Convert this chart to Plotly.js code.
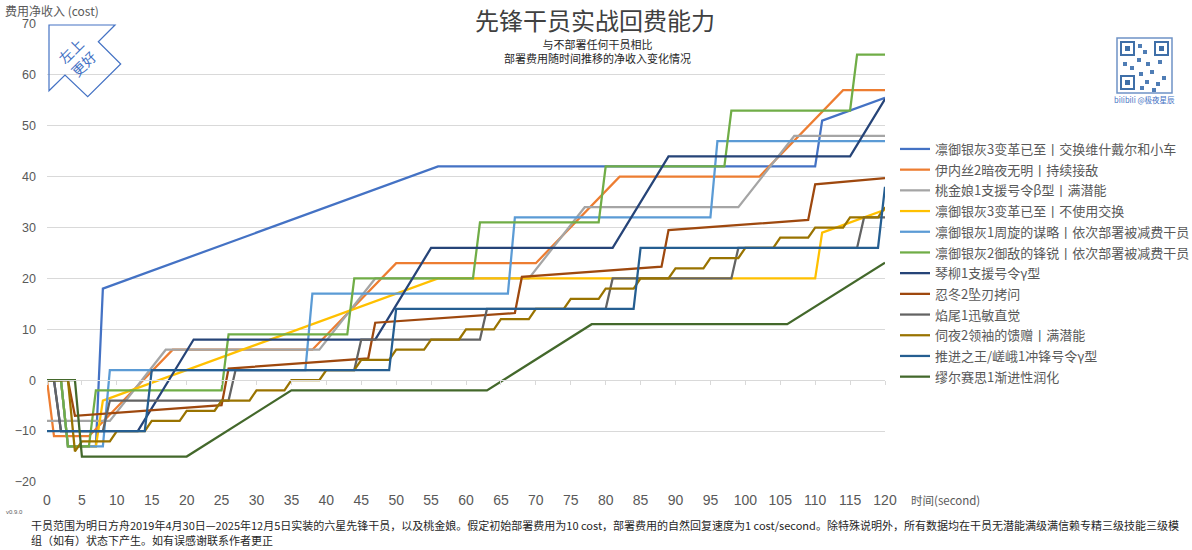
<!DOCTYPE html>
<html>
<head>
<meta charset="utf-8">
<script src="https://cdn.plot.ly/plotly-3.0.1.min.js"></script>
<style>
  html, body { margin: 0; padding: 0; background: #fff; }
  #chart { width: 1192px; height: 550px; }
</style>
</head>
<body>
<div id="chart"></div>
<script>
// series names as in the legend
var seriesNames = [
  '凛御银灰3变革已至丨交换维什戴尔和小车',
  '伊内丝2暗夜无明丨持续接敌',
  '桃金娘1支援号令β型丨满潜能',
  '凛御银灰3变革已至丨不使用交换',
  '凛御银灰1周旋的谋略丨依次部署被减费干员',
  '凛御银灰2御敌的锋锐丨依次部署被减费干员',
  '琴柳1支援号令γ型',
  '忍冬2坠刃拷问',
  '焰尾1迅敏直觉',
  '伺夜2领袖的馈赠丨满潜能',
  '推进之王/嵯峨1冲锋号令γ型',
  '缪尔赛思1渐进性润化'
];
var colors = ['#4472C4', '#ED7D31', '#A5A5A5', '#FFC000', '#5B9BD5', '#70AD47',
              '#264478', '#9E480E', '#636363', '#997300', '#255E91', '#43682B'];

// time (second) / net cost pairs
var t1 = [0, 2, 3, 7, 8, 56, 110, 111, 120];
var v1 = [0, 0, -13, -13, 18, 42, 42, 51, 55.5];

var t2 = [0, 1, 6, 18, 38, 50, 70, 82, 102, 114, 120];
var v2 = [0, -11, -11, 6, 6, 23, 23, 40, 40, 57, 57];

var t3 = [0, 9, 17, 39, 47, 69, 77, 99, 107, 120];
var v3 = [-8, -8, 6, 6, 20, 20, 34, 34, 48, 48];

var t4 = [0, 2, 3, 7, 8, 56, 110, 111, 120];
var v4 = [0, 0, -13, -13, -4, 20, 20, 29, 33.5];

var t5 = [0, 2, 3, 8, 9, 37, 38, 66, 67, 95, 96, 120];
var v5 = [0, 0, -13, -13, 2, 2, 17, 17, 32, 32, 47, 47];

var t6 = [0, 2, 3, 6, 7, 25, 26, 43, 44, 61, 62, 79, 80, 97, 98, 115, 116, 120];
var v6 = [0, 0, -13, -13, -2, -2, 9, 9, 20, 20, 31, 31, 42, 42, 53, 53, 64, 64];

var t7 = [0, 1, 2, 13, 21, 47, 55, 81, 89, 115, 120];
var v7 = [0, 0, -10, -10, 8, 8, 26, 26, 44, 44, 55.25];

var t8 = [0, 3, 4, 25, 26, 46, 47, 67, 68, 88, 89, 109, 110, 120];
var v8 = [0, 0, -7, -4.9, 2.3, 4.3, 11.3, 13.2, 20.3, 22.3, 29.5, 31.5, 38.5, 39.7];

var t9 = [0, 1, 2, 8, 9, 26, 27, 44, 45, 62, 63, 80, 81, 98, 99, 116, 117, 120];
var v9 = [0, 0, -10, -10, -4, -4, 2, 2, 8, 8, 14, 14, 20, 20, 26, 26, 32, 32];

var t10 = [0, 3, 4, 5, 9, 10, 14, 15, 19, 20, 24, 25, 29, 30, 34, 35, 39, 40, 44, 45,
           49, 50, 54, 55, 59, 60, 64, 65, 69, 70, 74, 75, 79, 80, 84, 85, 89, 90,
           94, 95, 99, 100, 104, 105, 109, 110, 114, 115, 119, 120];
var v10 = [0, 0, -14, -12, -12, -10, -10, -8, -8, -6, -6, -4, -4, -2, -2, 0, 0, 2, 2, 4,
           4, 6, 6, 8, 8, 10, 10, 12, 12, 14, 14, 16, 16, 18, 18, 20, 20, 22,
           22, 24, 24, 26, 26, 28, 28, 30, 30, 32, 32, 34];

var t11 = [0, 14, 15, 49, 50, 84, 85, 119, 120];
var v11 = [-10, -10, 2, 2, 14, 14, 26, 26, 38];

var t12 = [0, 4, 5, 20, 35, 63, 78, 106, 120];
var v12 = [0, 0, -15, -15, -2, -2, 11, 11, 23.1];

var xTicks = [0, 5, 10, 15, 20, 25, 30, 35, 40, 45, 50, 55, 60, 65, 70, 75, 80, 85, 90, 95, 100, 105, 110, 115, 120];
var yTicks = [-20, -10, 0, 10, 20, 30, 40, 50, 60, 70];

var times = [t1, t2, t3, t4, t5, t6, t7, t8, t9, t10, t11, t12];
var values = [v1, v2, v3, v4, v5, v6, v7, v8, v9, v10, v11, v12];

// plot area in pixels
var PL = 47, PR = 885, PT = 24, PB = 482;
function px(x) { return (x - PL) / (PR - PL); }
function py(y) { return (PB - y) / (PB - PT); }

var cjk = '"Noto Sans CJK SC", "Noto Sans", sans-serif';
var grey = '#595959';

var data = [];
for (var i = 0; i < seriesNames.length; i++) {
  data.push({
    x: times[i],
    y: values[i],
    name: seriesNames[i],
    legendgroup: 'g' + i,
    mode: 'lines',
    line: { color: colors[i], width: 2.25 },
    hoverinfo: 'x+y+name'
  });
}
// holder so the zero-line tick axis is drawn
data.push({ x: [xTicks[0], xTicks[xTicks.length - 1]], y: [null, null], xaxis: 'x2',
            showlegend: false, hoverinfo: 'skip', mode: 'lines' });

// arrow outline "左上更好"
var arrow = [[49, 25], [115, 25], [98.3, 41.7], [120.7, 64], [87.7, 96.7], [65, 75], [49, 90.7]];
var arrowPath = arrow.map(function (p, k) {
  return (k ? 'L' : 'M') + px(p[0]).toFixed(5) + ',' + py(p[1]).toFixed(5);
}).join(' ') + ' Z';

var shapes = [
  // white band behind the title, breaking the top gridline
  { type: 'rect', xref: 'paper', yref: 'paper', layer: 'above', x0: px(438), x1: px(753),
    y0: py(30), y1: py(18), line: { width: 0 }, fillcolor: '#fff' },
  { type: 'path', xref: 'paper', yref: 'paper', path: arrowPath,
    line: { color: '#4472C4', width: 1.2 }, fillcolor: 'rgba(255,255,255,0)' },
  // QR code stand-in
  { type: 'rect', xref: 'paper', yref: 'paper', x0: px(1117), x1: px(1172), y0: py(93), y1: py(38),
    line: { color: '#6F93C6', width: 1.5 }, fillcolor: '#fff' }
];
[[1121, 42], [1155, 42], [1121, 76]].forEach(function (c) {
  shapes.push({ type: 'rect', xref: 'paper', yref: 'paper', x0: px(c[0]), x1: px(c[0] + 13),
    y0: py(c[1] + 13), y1: py(c[1]), line: { color: '#3F6FA8', width: 2 }, fillcolor: '#fff' });
  shapes.push({ type: 'rect', xref: 'paper', yref: 'paper', x0: px(c[0] + 4), x1: px(c[0] + 9),
    y0: py(c[1] + 9), y1: py(c[1] + 4), line: { width: 0 }, fillcolor: '#3F6FA8' });
});
[[1138, 44], [1143, 50], [1137, 58], [1146, 62], [1123, 62], [1130, 66], [1150, 70],
 [1158, 60], [1139, 72], [1145, 80], [1156, 82], [1162, 76], [1140, 86], [1152, 88]].forEach(function (c) {
  shapes.push({ type: 'rect', xref: 'paper', yref: 'paper', x0: px(c[0]), x1: px(c[0] + 4),
    y0: py(c[1] + 4), y1: py(c[1]), line: { width: 0 }, fillcolor: '#4F7DB5' });
});

var annotations = [
  { text: '先锋干员实战回费能力', xref: 'paper', yref: 'paper', x: px(595), y: py(20),
    xanchor: 'center', yanchor: 'middle', showarrow: false,
    font: { family: cjk, size: 24, color: '#404040' } },
  { text: '与不部署任何干员相比<br>部署费用随时间推移的净收入变化情况', xref: 'paper', yref: 'paper',
    x: px(597), y: py(50.5), xanchor: 'center', yanchor: 'middle', showarrow: false,
    font: { family: cjk, size: 11, color: '#262626' } },
  { text: '费用净收入 (cost)', xref: 'paper', yref: 'paper', x: px(3), y: py(11),
    xanchor: 'left', yanchor: 'middle', showarrow: false,
    font: { family: cjk, size: 12, color: grey } },
  { text: '时间(second)', xref: 'paper', yref: 'paper', x: px(909), y: py(500),
    xanchor: 'left', yanchor: 'middle', showarrow: false,
    font: { family: cjk, size: 11.5, color: grey } },
  { text: '左上<br>更好', xref: 'paper', yref: 'paper', x: px(77), y: py(57),
    xanchor: 'center', yanchor: 'middle', showarrow: false, textangle: -45,
    font: { family: cjk, size: 14, color: '#4472C4' } },
  { text: 'bilibili @极夜星辰', xref: 'paper', yref: 'paper', x: px(1144), y: py(99),
    xanchor: 'center', yanchor: 'middle', showarrow: false,
    font: { family: cjk, size: 7.5, color: '#4472C4' } },
  { text: 'v0.9.0', xref: 'paper', yref: 'paper', x: px(14), y: py(512),
    xanchor: 'center', yanchor: 'middle', showarrow: false,
    font: { family: '"Liberation Sans", sans-serif', size: 6, color: grey } },
  { text: '干员范围为明日方舟2019年4月30日—2025年12月5日实装的六星先锋干员，以及桃金娘。假定初始部署费用为10 cost，部署费用的自然回复速度为1 cost/second。除特殊说明外，所有数据均在干员无潜能满级满信赖专精三级技能三级模',
    xref: 'paper', yref: 'paper', x: px(29), y: py(525), xanchor: 'left', yanchor: 'middle',
    showarrow: false, font: { family: cjk, size: 11, color: '#262626' } },
  { text: '组（如有）状态下产生。如有误感谢联系作者更正',
    xref: 'paper', yref: 'paper', x: px(29), y: py(540), xanchor: 'left', yanchor: 'middle',
    showarrow: false, font: { family: cjk, size: 11, color: '#262626' } }
];

var layout = {
  width: 1192,
  height: 550,
  margin: { l: PL, r: 1192 - PR, t: PT, b: 550 - PB, autoexpand: false },
  paper_bgcolor: '#fff',
  plot_bgcolor: '#fff',
  showlegend: true,
  legend: {
    x: px(895), y: py(134), xanchor: 'left', yanchor: 'top',
    font: { family: cjk, size: 13, color: grey },
    tracegroupgap: 0.8, bgcolor: 'rgba(0,0,0,0)'
  },
  xaxis: {
    range: [0, 120], tickvals: xTicks, ticks: '', showgrid: false, zeroline: false,
    showline: false, ticklabelstandoff: 8, automargin: false,
    tickfont: { family: '"Liberation Sans Narrow", "Liberation Sans", sans-serif', size: 14, color: grey }
  },
  xaxis2: {
    overlaying: 'x', anchor: 'free', position: (0 - yTicks[0]) / (yTicks[yTicks.length - 1] - yTicks[0]),
    range: [0, 120], tickvals: xTicks, ticks: 'outside', ticklen: 4, tickcolor: '#d9d9d9',
    showticklabels: false, showgrid: false, zeroline: false, showline: true, linecolor: '#d9d9d9'
  },
  yaxis: {
    range: [-20, 70], tickvals: yTicks, showgrid: true, gridcolor: '#d9d9d9', gridwidth: 1,
    zeroline: false, ticks: '', ticklabelstandoff: 10, automargin: false,
    tickfont: { family: '"Liberation Sans", sans-serif', size: 12.5, color: grey }
  },
  shapes: shapes,
  annotations: annotations
};

Plotly.newPlot('chart', data, layout, { displayModeBar: false, staticPlot: true });
</script>
</body>
</html>
